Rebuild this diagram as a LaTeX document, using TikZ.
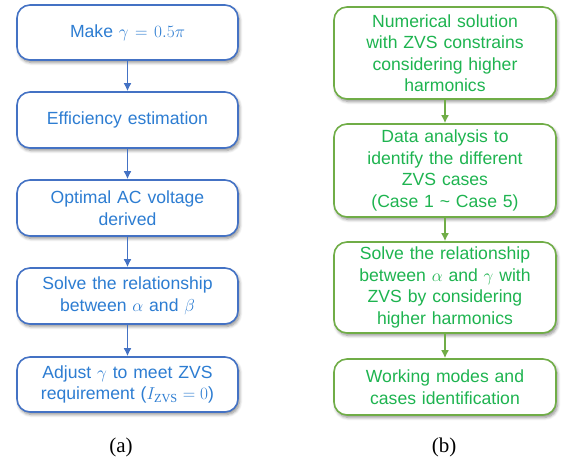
\documentclass[tikz,border=0pt]{standalone}
\usepackage{amsmath}
\usepackage{fontspec}
\setmainfont{Liberation Sans}
\newfontfamily\capfont{Liberation Serif}
\usetikzlibrary{shadows.blur,arrows.meta}
\definecolor{bborder}{RGB}{68,114,196}
\definecolor{btext}{RGB}{45,125,210}
\definecolor{gborder}{RGB}{112,173,71}
\definecolor{gtext}{RGB}{30,180,80}
\thickmuskip=4mu plus 2mu
\tikzset{
  box/.style={draw, line width=1.6pt, rounded corners=13pt, fill=white, align=center,
    font=\fontsize{17.6}{21.5}\selectfont, inner sep=2pt,
    blur shadow={shadow xshift=1.5pt, shadow yshift=-2.5pt, shadow blur steps=6, shadow blur radius=3pt, shadow opacity=45}},
  bbox/.style={box, draw=bborder, text=btext, minimum width=221pt, text width=215pt},
  gbox/.style={box, draw=gborder, text=gtext, minimum width=222pt, text width=215pt},
  barrow/.style={draw=bborder, line width=1.7pt, -{Latex[length=8pt,width=8pt]}},
  garrow/.style={draw=gborder, line width=1.7pt, -{Latex[length=8pt,width=8pt]}},
  captionlabel/.style={font=\capfont\fontsize{21}{24}\selectfont, text=black}
}
\begin{document}
\begin{tikzpicture}[x=1pt,y=-1pt]
\useasboundingbox (0,0) rectangle (568,463);
% left column
\node[bbox, minimum height=55pt] (a1) at (127.5,32.5) {Make $\gamma=0.5\pi$};
\node[bbox, minimum height=56pt] (a2) at (127.5,120) {Efficiency estimation};
\node[bbox, minimum height=56pt] (a3) at (127.5,208) {Optimal AC voltage\\derived};
\node[bbox, minimum height=56pt] (a4) at (127.5,296) {Solve the relationship\\between $\alpha$ and $\beta$};
\node[bbox, minimum height=55pt] (a5) at (127.5,384.5) {Adjust $\gamma$ to meet ZVS\\requirement ($I_{\text{\capfont ZVS}}=0$)};
\node[captionlabel] (ca) at (121,447) {(a)};
\draw[barrow] (a1) -- (a2);
\draw[barrow] (a2) -- (a3);
\draw[barrow] (a3) -- (a4);
\draw[barrow] (a4) -- (a5);
% right column
\node[gbox, minimum height=92pt] (b1) at (445,53) {Numerical solution\\with ZVS constrains\\considering higher\\harmonics};
\node[gbox, minimum height=93pt] (b2) at (445,170.5) {Data analysis to\\identify the different\\ZVS cases\\(Case 1 \textasciitilde{} Case 5)};
\node[gbox, minimum height=91pt] (b3) at (445,287.5) {Solve the relationship\\between $\alpha$ and $\gamma$ with\\ZVS by considering\\higher harmonics};
\node[gbox, minimum height=56pt] (b4) at (445,387) {Working modes and\\cases identification};
\node[captionlabel] (cb) at (444,447) {(b)};
\draw[garrow] (b1) -- (b2);
\draw[garrow] (b2) -- (b3);
\draw[garrow] (b3) -- (b4);
\end{tikzpicture}
\end{document}
